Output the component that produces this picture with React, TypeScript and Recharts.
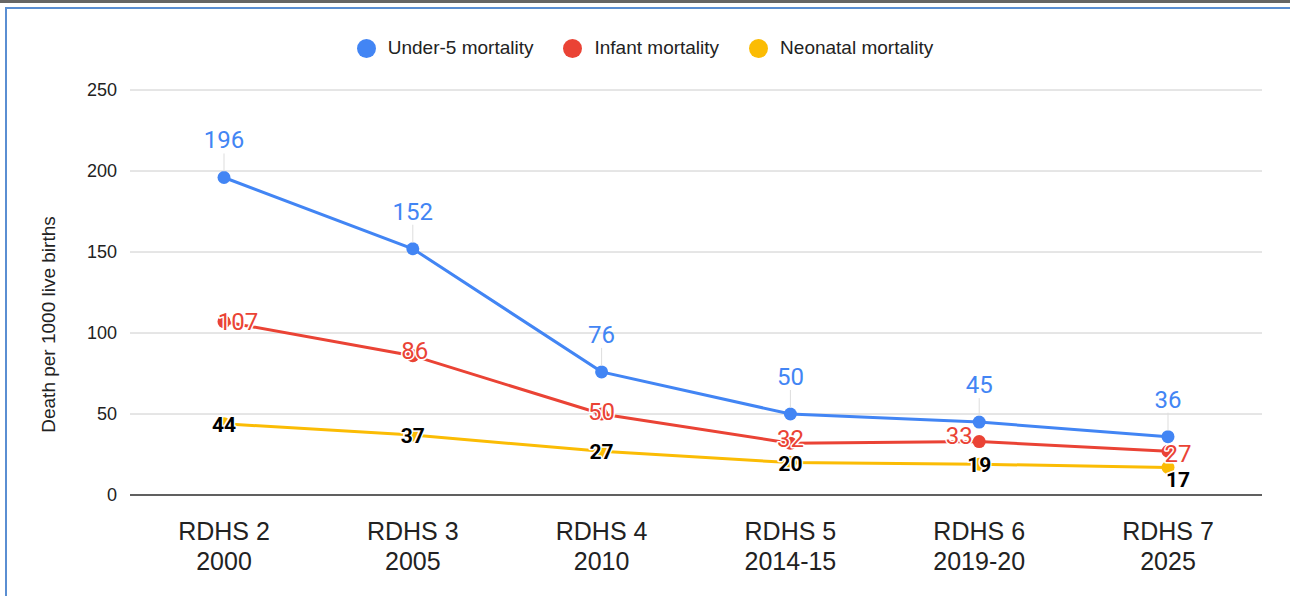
import { LineChart, Line, XAxis, YAxis, CartesianGrid, Legend, LabelList } from 'recharts';

const surveys = ['RDHS 2', 'RDHS 3', 'RDHS 4', 'RDHS 5', 'RDHS 6', 'RDHS 7'];
const years = ['2000', '2005', '2010', '2014-15', '2019-20', '2025'];
const underFive = [196, 152, 76, 50, 45, 36];
const infant = [107, 86, 50, 32, 33, 27];
const neonatal = [44, 37, 27, 20, 19, 17];
const yTicks = [0, 50, 100, 150, 200, 250];

// where Google nudged the red / black labels to avoid collisions
const infantNudge = [[14, 8], [2, 3], [0, 6], [0, 4], [-20, 2], [10, 11]];
const neonatalNudge = [[0, 8], [0, 8], [0, 8], [0, 8], [0, 8], [10, 20]];

const COLORS = { under5: '#4285F4', infant: '#EA4335', neonatal: '#FBBC04' };
const AXIS_FONT = '"Liberation Sans", Arial, sans-serif';
const LABEL_FONT = 'Roboto, "Liberation Sans", Arial, sans-serif';

const data = surveys.map((s, i) => ({
  label: s + '\n' + years[i],
  under5: underFive[i],
  infant: infant[i],
  neonatal: neonatal[i],
}));

const seriesNames = [
  { key: 'under5', name: 'Under-5 mortality' },
  { key: 'infant', name: 'Infant mortality' },
  { key: 'neonatal', name: 'Neonatal mortality' },
];

const XTick = ({ x, y, payload }: any) => {
  const [a, b] = String(payload.value).split('\n');
  return (
    <text x={x} y={y} textAnchor="middle" fill="#222" fontSize={25} fontFamily={AXIS_FONT}>
      <tspan x={x} dy={37}>{a}</tspan>
      <tspan x={x} dy={30}>{b}</tspan>
    </text>
  );
};

const BlueLabel = (props: any) => {
  const { x, y, value } = props;
  return (
    <g>
      <line x1={x} x2={x} y1={y - 24} y2={y - 6} stroke="#ddd" strokeWidth={1} />
      <text x={x} y={y - 29} textAnchor="middle" fill={COLORS.under5} fontSize={24} fontFamily={LABEL_FONT}>
        {value}
      </text>
    </g>
  );
};

const RedLabel = (props: any) => {
  const { x, y, value, index } = props;
  const [dx, dy] = infantNudge[index];
  return (
    <text x={x + dx} y={y + dy} textAnchor="middle" fill={COLORS.infant} fontSize={24} fontFamily={LABEL_FONT}
      stroke="#fff" strokeWidth={3} paintOrder="stroke" strokeLinejoin="round">
      {value}
    </text>
  );
};

const BlackLabel = (props: any) => {
  const { x, y, value, index } = props;
  const [dx, dy] = neonatalNudge[index];
  return (
    <text x={x + dx} y={y + dy} textAnchor="middle" fill="#000" fontSize={21} fontWeight="bold" fontFamily={LABEL_FONT}
      stroke="#fff" strokeWidth={3} paintOrder="stroke" strokeLinejoin="round">
      {value}
    </text>
  );
};

const LegendBox = () => (
  <div style={{ display: 'flex', justifyContent: 'center', alignItems: 'center', height: 24, fontFamily: AXIS_FONT, fontSize: 19, color: '#222' }}>
    {seriesNames.map((s, i) => (
      <div key={s.key} style={{ display: 'flex', alignItems: 'center', marginLeft: i === 0 ? 0 : 30 }}>
        <span style={{ width: 19, height: 19, borderRadius: '50%', background: (COLORS as any)[s.key], marginRight: 12, display: 'inline-block' }} />
        <span>{s.name}</span>
      </div>
    ))}
  </div>
);

const YTitle = ({ viewBox }: any) => {
  const cx = 48;
  const cy = viewBox.y + viewBox.height / 2 + 32;
  return (
    <text x={cx} y={cy} transform={`rotate(-90, ${cx}, ${cy})`} textAnchor="middle" dominantBaseline="central"
      fill="#222" fontSize={19} fontFamily={AXIS_FONT}>
      Death per 1000 live births
    </text>
  );
};

export default function App() {
  return (
    <div style={{ position: 'absolute', left: 0, top: 0, width: 1290, height: 596, background: '#fff' }}>
      <div style={{ position: 'absolute', left: 0, top: 0, width: 1290, height: 3, background: '#666' }} />
      <div style={{ position: 'absolute', left: 5, top: 7, width: 1285, height: 589, borderTop: '2px solid #5a8ed2', borderLeft: '2px solid #5a8ed2', boxSizing: 'border-box' }} />
      <div style={{ position: 'absolute', left: 0, top: 0 }}>
        <LineChart width={1290} height={596} data={data} margin={{ top: 66, right: 28, left: 0, bottom: 0 }}>
          <CartesianGrid vertical={false} stroke="#ccc" />
          <Legend verticalAlign="top" content={<LegendBox />} wrapperStyle={{ left: 0, width: 1290, top: 36 }} />
          <XAxis dataKey="label" interval={0} tick={<XTick />} tickLine={false} axisLine={{ stroke: '#333', strokeWidth: 1.5 }}
            height={101} padding={{ left: 94, right: 94 }} />
          <YAxis domain={[0, 250]} ticks={yTicks} width={130} tickLine={false} axisLine={false} tickSize={0} tickMargin={13}
            tick={{ fill: '#222', fontSize: 18, fontFamily: AXIS_FONT }} label={<YTitle />} />
          <Line dataKey="under5" name="Under-5 mortality" stroke={COLORS.under5} strokeWidth={3}
            dot={{ r: 6.5, fill: COLORS.under5, stroke: 'none' }} isAnimationActive={false}>
            <LabelList dataKey="under5" content={<BlueLabel />} />
          </Line>
          <Line dataKey="infant" name="Infant mortality" stroke={COLORS.infant} strokeWidth={3}
            dot={{ r: 6.5, fill: COLORS.infant, stroke: 'none' }} isAnimationActive={false}>
            <LabelList dataKey="infant" content={<RedLabel />} />
          </Line>
          <Line dataKey="neonatal" name="Neonatal mortality" stroke={COLORS.neonatal} strokeWidth={3}
            dot={{ r: 6.5, fill: COLORS.neonatal, stroke: 'none' }} isAnimationActive={false}>
            <LabelList dataKey="neonatal" content={<BlackLabel />} />
          </Line>
        </LineChart>
      </div>
    </div>
  );
}
